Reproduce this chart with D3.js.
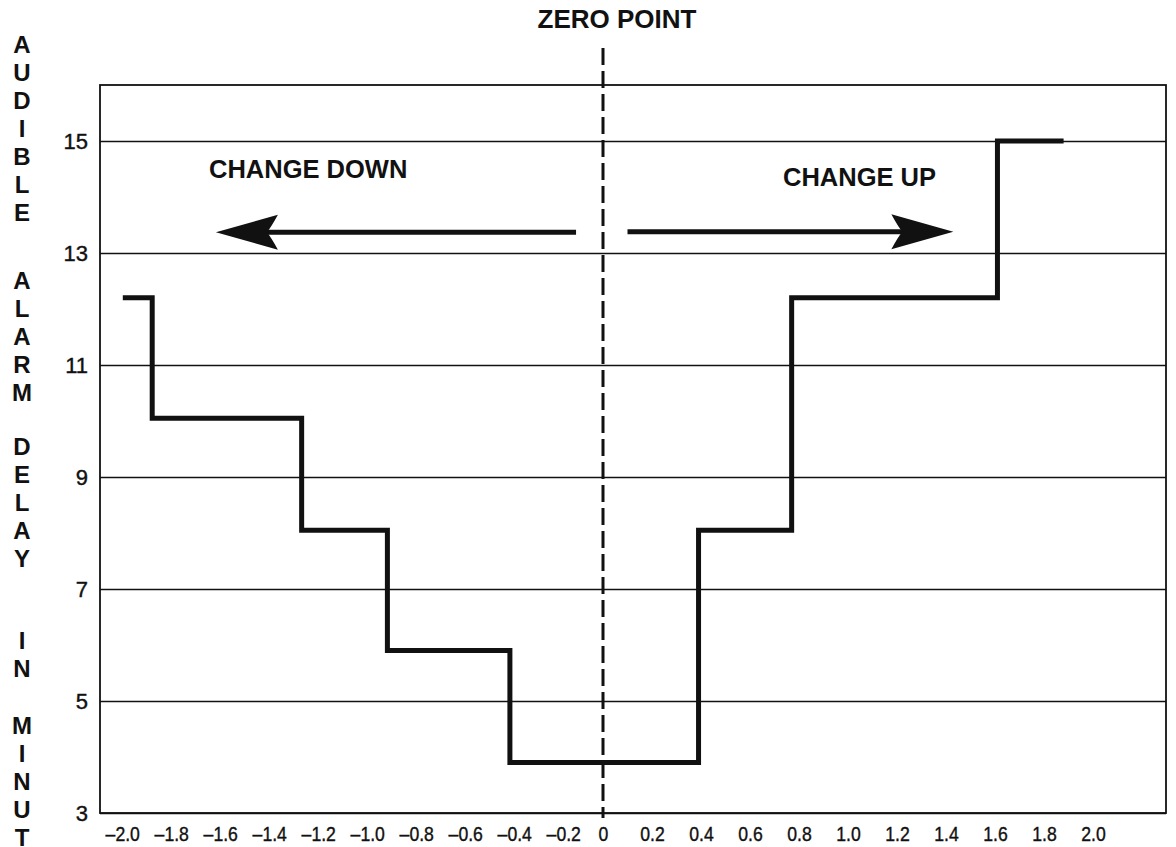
<!DOCTYPE html>
<html>
<head>
<meta charset="utf-8">
<script src="https://cdn.jsdelivr.net/npm/d3@7"></script>
<style>
  html, body { margin: 0; padding: 0; background: #fff; }
  svg { display: block; font-family: "Liberation Sans", Arial, Helvetica, sans-serif; }
</style>
</head>
<body>
<svg id="chart" width="1176" height="847"></svg>
<script>
// Deviation from the zero point (x) and alarm delay in minutes (y)
const xTicks = [-2.0, -1.8, -1.6, -1.4, -1.2, -1.0, -0.8, -0.6, -0.4, -0.2, 0, 0.2, 0.4, 0.6, 0.8, 1.0, 1.2, 1.4, 1.6, 1.8, 2.0];
const yTicks = [3, 5, 7, 9, 11, 13, 15];

// Step edges along x and the delay held between consecutive edges
const stepEdges  = [-1.96, -1.84, -1.23, -0.88, -0.38, 0.39, 0.77, 1.61, 1.88];
const stepDelays = [12.2, 10.05, 8.05, 5.9, 3.9, 8.05, 12.2, 15.0];

// Direction arrows: [from, to] along x, at a given delay level
const arrowDown = { from: -0.11, to: -1.58, level: 13.37 };
const arrowUp   = { from: 0.10,  to: 1.43,  level: 13.38 };

const axisWords = ["AUDIBLE", "ALARM", "DELAY", "IN", "MINUTES"];
const wordTops  = [44, 280, 446, 640, 725];

const W = 1176, H = 847;
const svg = d3.select("#chart");
const plot = { left: 100, top: 85, right: 1166, bottom: 813 };

const x = d3.scaleLinear().domain([-2, 2]).range([113, 1093]);
const y = d3.scaleLinear().domain([3, 16]).range([plot.bottom, plot.top]);

// Horizontal grid + y tick labels
const yAxis = d3.axisLeft(y)
  .tickValues(yTicks)
  .tickSize(-(plot.right - plot.left))
  .tickPadding(12)
  .tickFormat(d3.format("d"));
const gy = svg.append("g").attr("transform", `translate(${plot.left},0)`).call(yAxis);
gy.select(".domain").remove();
gy.selectAll(".tick line").attr("stroke", "#111").attr("stroke-width", 1.6);
gy.selectAll(".tick text")
  .attr("fill", "#111")
  .attr("stroke", "#111").attr("stroke-width", 0.4)
  .style("font-size", "22px")
  .attr("dy", "0.36em");

// Plot frame
svg.append("rect")
  .attr("x", plot.left).attr("y", plot.top)
  .attr("width", plot.right - plot.left).attr("height", plot.bottom - plot.top)
  .attr("fill", "none").attr("stroke", "#111").attr("stroke-width", 1.8);

// X tick labels (typeset narrow, no tick marks)
const fmtX = d => d === 0 ? "0" : (d < 0 ? "\u2013" : "") + Math.abs(d).toFixed(1);
const xAxis = d3.axisBottom(x).tickValues(xTicks).tickSize(0).tickPadding(13).tickFormat(fmtX);
const gx = svg.append("g").attr("transform", `translate(0,${plot.bottom})`).call(xAxis);
gx.select(".domain").remove();
gx.selectAll(".tick text")
  .attr("fill", "#111")
  .attr("stroke", "#111").attr("stroke-width", 0.4)
  .style("font-size", "21px")
  .attr("dx", d => d < 0 ? 11 : 0)
  .attr("transform", "scale(0.84,1)");

// Zero point dashed line
svg.append("line")
  .attr("x1", x(0)).attr("x2", x(0))
  .attr("y1", 48).attr("y2", 818)
  .attr("stroke", "#111").attr("stroke-width", 3)
  .attr("stroke-dasharray", "17,6");

svg.append("text")
  .attr("x", 617).attr("y", 28)
  .attr("text-anchor", "middle")
  .style("font-size", "26px").style("font-weight", "bold")
  .attr("fill", "#111")
  .text("ZERO POINT");

// Delay step curve
const stepPoints = stepDelays.map((v, i) => [stepEdges[i], v]);
stepPoints.push([stepEdges[stepEdges.length - 1], stepDelays[stepDelays.length - 1]]);
const stepLine = d3.line().x(d => x(d[0])).y(d => y(d[1])).curve(d3.curveStepAfter);
svg.append("path")
  .attr("d", stepLine(stepPoints))
  .attr("fill", "none").attr("stroke", "#111")
  .attr("stroke-width", 5).attr("stroke-linejoin", "miter").attr("stroke-linecap", "butt");

// Arrows
function drawArrow(a) {
  const x0 = x(a.from), x1 = x(a.to), yy = y(a.level);
  const dir = Math.sign(x1 - x0);
  const headLen = 62, halfW = 17.5, notch = 11;
  svg.append("line")
    .attr("x1", x0).attr("x2", x1 - dir * (headLen - notch - 2))
    .attr("y1", yy).attr("y2", yy)
    .attr("stroke", "#111").attr("stroke-width", 5);
  const p = d3.path();
  p.moveTo(x1, yy);
  p.lineTo(x1 - dir * headLen, yy - halfW);
  p.quadraticCurveTo(x1 - dir * (headLen - notch * 0.6), yy - halfW * 0.3, x1 - dir * (headLen - notch), yy);
  p.quadraticCurveTo(x1 - dir * (headLen - notch * 0.6), yy + halfW * 0.3, x1 - dir * headLen, yy + halfW);
  p.closePath();
  svg.append("path").attr("d", p.toString()).attr("fill", "#111");
}
drawArrow(arrowDown);
drawArrow(arrowUp);

svg.append("text")
  .attr("x", 209).attr("y", 178)
  .style("font-size", "25.5px").style("font-weight", "bold").attr("fill", "#111")
  .text("CHANGE DOWN");
svg.append("text")
  .attr("x", 783).attr("y", 186)
  .style("font-size", "25.5px").style("font-weight", "bold").attr("fill", "#111")
  .text("CHANGE UP");

// Vertical axis title, one letter per line (letters past the page bottom are not drawn)
const gTitle = svg.append("g");
axisWords.forEach((w, wi) => {
  w.split("").forEach((ch, ci) => {
    const cy = wordTops[wi] + ci * 28;
    if (cy > H) return;
    gTitle.append("text")
      .attr("x", 22)
      .attr("y", cy)
      .attr("dy", "0.36em")
      .attr("text-anchor", "middle")
      .style("font-size", "24px").style("font-weight", "bold").attr("fill", "#111")
      .text(ch);
  });
});
</script>
</body>
</html>
